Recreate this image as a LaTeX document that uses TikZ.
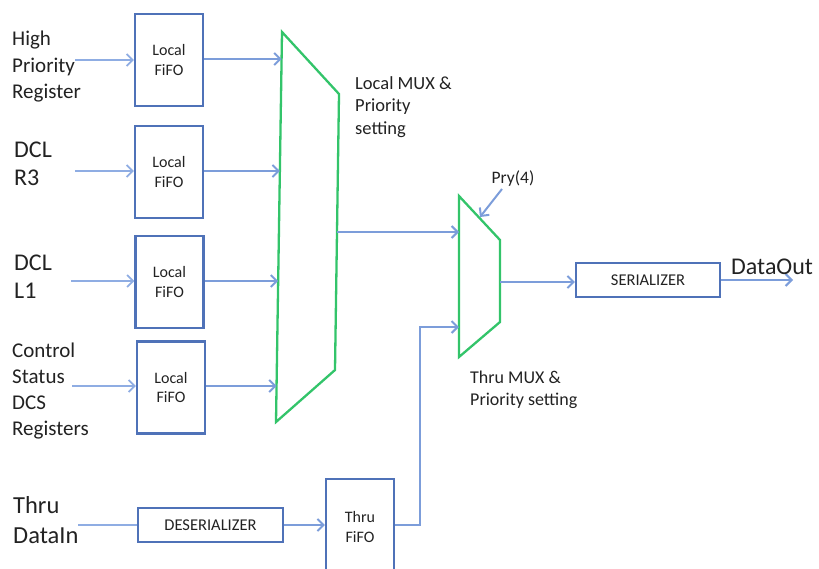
\documentclass[tikz,border=0pt]{standalone}
\usepackage{fontspec}
\setmainfont{Carlito}
\usetikzlibrary{arrows.meta}
\definecolor{boxblue}{HTML}{4F72B8}
\definecolor{arrblue}{HTML}{7C9DDA}
\definecolor{inblue}{HTML}{8FADE3}
\definecolor{muxgreen}{HTML}{33C46A}
\definecolor{txt}{HTML}{222222}
\begin{document}
\begin{tikzpicture}[x=1pt,y=-1pt,
  fifo/.style={draw=boxblue,line width=2.3pt,minimum width=68pt,minimum height=92pt,inner sep=0pt,align=center,font=\fontsize{16}{19.5}\selectfont,text=txt},
  wbox/.style={draw=boxblue,line width=2.3pt,minimum height=34pt,inner sep=0pt,font=\fontsize{16.5}{18}\selectfont,text=txt},
  lab/.style={align=left,anchor=west,inner sep=0pt,text=txt},
  arr/.style={draw=arrblue,line width=2.4pt,-{Straight Barb[length=6pt,width=12pt,line width=2pt]}},
  inarr/.style={draw=inblue,line width=1.8pt,-{Straight Barb[length=6pt,width=12pt,line width=1.8pt]}},
  mux/.style={draw=muxgreen,line width=2.3pt,line join=miter}]
\useasboundingbox (0,0) rectangle (819,568);

% FIFO boxes
\node[fifo] (f1) at (169,60) {Local\\FiFO};
\node[fifo] (f2) at (169,172) {Local\\FiFO};
\node[fifo] (f3) at (169.5,282) {Local\\FiFO};
\node[fifo] (f4) at (171,387.5) {Local\\FiFO};

% left labels
\node[lab,font=\fontsize{21}{26.5}\selectfont] (l1) at (12,67) {High\\Priority\\Register};
\node[lab,font=\fontsize{24}{28}\selectfont] (l2) at (14,164) {DCL\\R3};
\node[lab,font=\fontsize{24}{28}\selectfont] (l3) at (14,277) {DCL\\L1};
\node[lab,font=\fontsize{21}{26}\selectfont] (l4) at (12,391) {Control\\Status\\DCS\\Registers};
\node[lab,font=\fontsize{24.5}{30}\selectfont] (l5) at (13,520) {Thru\\DataIn};

% input arrow starts
\coordinate (i1) at (75,60);
\coordinate (i2) at (75,171);
\coordinate (i3) at (71,281);
\coordinate (i4) at (72,386);
\draw[inarr] (i1) -- (f1.west |- i1);
\draw[inarr] (i2) -- (f2.west |- i2);
\draw[inarr] (i3) -- (f3.west |- i3);
\draw[inarr] (i4) -- (f4.west |- i4);

% Local MUX
\coordinate (m1tl) at (282,32);
\coordinate (m1tr) at (339,94);
\coordinate (m1br) at (335,370);
\coordinate (m1bl) at (276,422);
\draw[mux] (m1tl) -- (m1tr) -- (m1br) -- (m1bl) -- cycle;
\coordinate (e1) at (281.6,59);
\coordinate (e2) at (279.9,171);
\coordinate (e3) at (278.2,281);
\coordinate (e4) at (276.6,386);
\draw[arr] (f1.east |- e1) -- (e1);
\draw[arr] (f2.east |- e2) -- (e2);
\draw[arr] (f3.east |- e3) -- (e3);
\draw[arr] (f4.east |- e4) -- (e4);
\node[lab,font=\fontsize{18.5}{22.5}\selectfont] (ml) at (355,107) {Local MUX \&\\Priority\\setting};

% Thru MUX
\coordinate (m2tl) at (459,196);
\coordinate (m2tr) at (500,240);
\coordinate (m2br) at (500,322);
\coordinate (m2bl) at (459,357);
\draw[mux] (m2tl) -- (m2tr) -- (m2br) -- (m2bl) -- cycle;
\node[lab,font=\fontsize{18}{22}\selectfont] (tl) at (470,390) {Thru MUX \&\\Priority setting};
\node[inner sep=0pt,font=\fontsize{17.5}{20}\selectfont,text=txt] (pry) at (513,179) {Pry(4)};
\coordinate (p1) at (502,189);
\coordinate (p2) at (480,217);
\draw[arr,line width=2pt] (p1) -- (p2);

\coordinate (lo) at (337,232);
\coordinate (ti1) at (459,232);
\draw[arr] (lo) -- (ti1);

% Deserializer and Thru FIFO
\coordinate (din) at (78,525);
\node[wbox,minimum width=145pt] (des) at (210.5,525) {DESERIALIZER};
\draw[draw=inblue,line width=1.8pt] (din) -- (des.west);
\node[fifo,minimum height=96pt] (tf) at (360,527) {Thru\\FiFO};
\draw[arr] (des.east) -- (tf.west |- des.east);
\coordinate (ti2) at (459,327);
\draw[arr] (tf.east |- 0,525) -- (420,525) -- (420,327) -- (ti2);

% Serializer
\coordinate (mo) at (500,282);
\node[wbox,minimum width=144pt] (ser) at (648,280) {SERIALIZER};
\draw[arr] (mo) -- (ser.west |- mo);
\coordinate (dout) at (793,280);
\draw[arr] (ser.east) -- (dout);
\node[lab,font=\fontsize{24}{28}\selectfont] (do) at (731,267) {DataOut};
\end{tikzpicture}
\end{document}
